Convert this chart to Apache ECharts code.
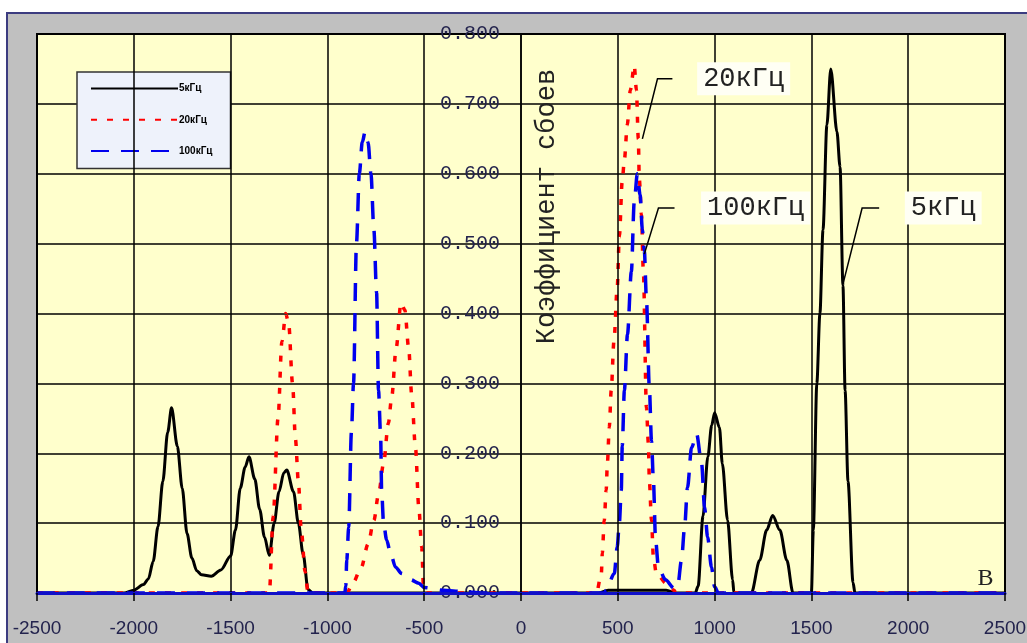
<!DOCTYPE html>
<html>
<head>
<meta charset="utf-8">
<script src="https://cdn.jsdelivr.net/npm/echarts@6/dist/echarts.min.js"></script>
<style>
  html, body { margin: 0; padding: 0; background: #fff; }
  #main { width: 1027px; height: 643px; }
</style>
</head>
<body>
<div id="main"></div>
<script>
// 5 кГц (black solid)
const x5k = [-2500, -2050, -2000, -1950, -1925, -1900, -1875, -1850, -1825, -1805, -1775, -1750, -1725, -1700, -1675, -1650, -1600, -1550, -1500, -1475, -1450, -1425, -1405, -1375, -1350, -1325, -1300, -1275, -1250, -1225, -1210, -1175, -1150, -1125, -1100, -1075, 400, 450, 750, 800, 900, 915, 940, 965, 985, 1000, 1025, 1040, 1067, 1093, 1100, 1190, 1233, 1269, 1300, 1337, 1373, 1405, 1500, 1510, 1528, 1544, 1560, 1580, 1600, 1632, 1648, 1663, 1674, 1689, 1715, 1725, 2500];
const y5k = [0, 0, 0.004, 0.012, 0.02, 0.045, 0.095, 0.16, 0.23, 0.265, 0.21, 0.15, 0.085, 0.05, 0.032, 0.026, 0.024, 0.033, 0.053, 0.09, 0.15, 0.18, 0.195, 0.163, 0.12, 0.08, 0.054, 0.1, 0.145, 0.172, 0.176, 0.145, 0.1, 0.055, 0.005, 0, 0, 0.004, 0.004, 0, 0, 0.01, 0.11, 0.195, 0.24, 0.258, 0.237, 0.185, 0.104, 0.019, 0, 0, 0.047, 0.09, 0.111, 0.09, 0.047, 0, 0, 0.09, 0.3, 0.4, 0.52, 0.67, 0.75, 0.66, 0.61, 0.44, 0.29, 0.16, 0.015, 0, 0];

// 20 кГц (red dotted)
const x20k = [-2500, -1300, -1280, -1255, -1235, -1215, -1200, -1180, -1165, -1150, -1135, -1115, -1100, -900, -865, -825, -790, -760, -735, -710, -685, -668, -645, -620, -600, -580, -565, -545, -528, -513, -503, -490, 390, 415, 420, 430, 440, 446, 456, 466, 480, 497, 508, 523, 534, 549, 565, 585, 596, 606, 611, 622, 632, 648, 658, 663, 674, 684, 699, 750, 790, 800, 2500];
const y20k = [0, 0, 0.11, 0.25, 0.36, 0.4, 0.385, 0.3, 0.22, 0.16, 0.09, 0.03, 0, 0, 0.016, 0.037, 0.07, 0.104, 0.143, 0.185, 0.243, 0.28, 0.35, 0.415, 0.405, 0.35, 0.285, 0.208, 0.123, 0.066, 0.005, 0, 0, 0.028, 0.057, 0.104, 0.147, 0.185, 0.237, 0.29, 0.36, 0.437, 0.51, 0.59, 0.62, 0.67, 0.72, 0.755, 0.72, 0.65, 0.593, 0.542, 0.46, 0.265, 0.214, 0.161, 0.104, 0.051, 0.028, 0.014, 0.004, 0, 0];

// 100 кГц (blue dashed)
const x100k = [-2500, -910, -905, -900, -890, -876, -865, -850, -835, -820, -805, -790, -775, -760, -746, -736, -725, -720, -710, -694, -674, -648, -617, -570, -528, -500, -400, -300, -200, 430, 440, 482, 497, 508, 518, 523, 534, 550, 570, 585, 601, 615, 627, 637, 648, 663, 674, 684, 695, 710, 746, 790, 809, 829, 845, 860, 881, 907, 933, 948, 964, 984, 1000, 1020, 2500];
const y100k = [0, 0, 0.01, 0.047, 0.094, 0.23, 0.3, 0.5, 0.6, 0.645, 0.66, 0.645, 0.6, 0.52, 0.43, 0.29, 0.225, 0.147, 0.1, 0.076, 0.057, 0.037, 0.028, 0.019, 0.014, 0.008, 0.004, 0.002, 0, 0, 0.004, 0.028, 0.066, 0.1, 0.147, 0.21, 0.29, 0.37, 0.46, 0.56, 0.6, 0.57, 0.52, 0.49, 0.42, 0.294, 0.218, 0.161, 0.076, 0.037, 0.019, 0.007, 0.009, 0.047, 0.094, 0.151, 0.208, 0.228, 0.185, 0.123, 0.08, 0.037, 0.009, 0, 0];

const seriesNames = ['5кГц', '20кГц', '100кГц'];

// callouts, in data coordinates
const calloutText = ['20кГц', '100кГц', '5кГц'];
const calloutAt = [[1150, 0.736], [1212, 0.551], [2181, 0.551]];
const calloutLeader = [
  [[782, 0.736], [705, 0.736], [627, 0.65]],
  [[793, 0.551], [710, 0.551], [637, 0.485]],
  [[1850, 0.551], [1762, 0.551], [1663, 0.442]],
];
const yTitle = 'Коэффициент сбоев';
const xTitle = 'B';

const zip = (xs, ys) => xs.map((x, i) => [x, ys[i]]);

const chart = echarts.init(document.getElementById('main'));

const lineSeries = (name, xs, ys, color, type, width) => ({
  name: name,
  type: 'line',
  data: zip(xs, ys),
  symbol: 'none',
  smooth: 0.3,
  smoothMonotone: 'x',
  lineStyle: { color: color, width: width, type: type },
  itemStyle: { color: color },
});

const gridLeft = 37;

chart.setOption({
  animation: false,
  backgroundColor: '#c0c0c0',
  grid: {
    left: gridLeft,
    right: 22,
    top: 34,
    bottom: 50,
    outerBoundsMode: 'none',
    containLabel: false,
    show: true,
    backgroundColor: '#ffffcc',
    borderColor: '#000',
    borderWidth: 2,
  },
  legend: {
    orient: 'vertical',
    left: 77,
    top: 72,
    data: seriesNames,
    backgroundColor: '#eef2fb',
    borderColor: '#333',
    borderWidth: 1.5,
    borderRadius: 0,
    padding: [11, 18, 12, 13],
    itemWidth: 87,
    itemHeight: 14,
    itemGap: 20,
    itemStyle: { opacity: 0 },
    textStyle: { fontFamily: 'Liberation Sans', fontSize: 10, fontWeight: 'bold', color: '#000', padding: [0, 0, 0, -4] },
  },
  xAxis: {
    type: 'value',
    min: -2500,
    max: 2500,
    interval: 500,
    z: 5,
    axisLine: { show: true, onZero: false, lineStyle: { color: '#1010c8', width: 3 } },
    axisTick: { show: true, length: 8, lineStyle: { color: '#000', width: 1.5 } },
    axisLabel: {
      formatter: (v) => String(v),
      color: '#23234d',
      fontFamily: 'Liberation Sans',
      fontSize: 19,
      margin: 26,
      showMinLabel: true,
      showMaxLabel: true,
    },
    splitLine: { show: true, lineStyle: { color: '#000', width: 1.5 } },
  },
  yAxis: {
    type: 'value',
    min: 0,
    max: 0.8,
    interval: 0.1,
    axisLine: { show: true, onZero: false, lineStyle: { color: '#000', width: 1.5 } },
    axisTick: { show: false },
    axisLabel: {
      formatter: (v) => v.toFixed(3),
      color: '#23234d',
      fontFamily: 'Liberation Mono',
      fontSize: 20,
      margin: 21,
    },
    splitLine: { show: true, lineStyle: { color: '#000', width: 1.5 } },
  },
  series: [
    lineSeries(seriesNames[0], x5k, y5k, '#000000', 'solid', 3),
    lineSeries(seriesNames[1], x20k, y20k, '#ff0000', [6, 10], 3.5),
    lineSeries(seriesNames[2], x100k, y100k, '#0000ee', [18, 12], 3.5),
  ],
});

const toPx = (p) => chart.convertToPixel({ gridIndex: 0 }, p);

// put the y axis (and its labels) on x = 0
const zeroX = toPx([0, 0])[0];

// frame, callouts and titles placed from data coordinates
const graphics = [
  { type: 'rect', shape: { x: 0, y: 0, width: 1027, height: 12 }, style: { fill: '#fff' }, silent: true },
  { type: 'rect', shape: { x: 0, y: 0, width: 6, height: 643 }, style: { fill: '#fff' }, silent: true },
  { type: 'polyline', shape: { points: [[7, 643], [7, 13], [1027, 13]] }, style: { stroke: '#3c3c80', lineWidth: 2, fill: null }, silent: true },
];

calloutText.forEach((t, i) => {
  graphics.push({
    type: 'polyline',
    z: 100,
    shape: { points: calloutLeader[i].map(toPx) },
    style: { stroke: '#000', lineWidth: 1.5, fill: null },
  });
  const p = toPx(calloutAt[i]);
  graphics.push({
    type: 'text',
    z: 101,
    x: p[0],
    y: p[1],
    style: {
      text: t,
      fontFamily: 'Liberation Mono',
      fontSize: 27,
      fill: '#222',
      align: 'center',
      verticalAlign: 'middle',
      backgroundColor: '#fffff4',
      padding: [3, 6, 3, 6],
    },
  });
});

const yt = toPx([135, 0.553]);
graphics.push({
  type: 'text',
  z: 101,
  x: yt[0],
  y: yt[1],
  rotation: Math.PI / 2,
  style: {
    text: yTitle,
    fontFamily: 'Liberation Mono',
    fontSize: 27,
    fill: '#222',
    align: 'center',
    verticalAlign: 'middle',
  },
});

const xt = toPx([2399, 0.021]);
graphics.push({
  type: 'text',
  z: 101,
  x: xt[0],
  y: xt[1],
  style: {
    text: xTitle,
    fontFamily: 'Liberation Serif',
    fontSize: 24,
    fill: '#222',
    align: 'center',
    verticalAlign: 'middle',
  },
});

chart.setOption({
  yAxis: { offset: -(zeroX - gridLeft) },
  graphic: graphics,
});
</script>
</body>
</html>
